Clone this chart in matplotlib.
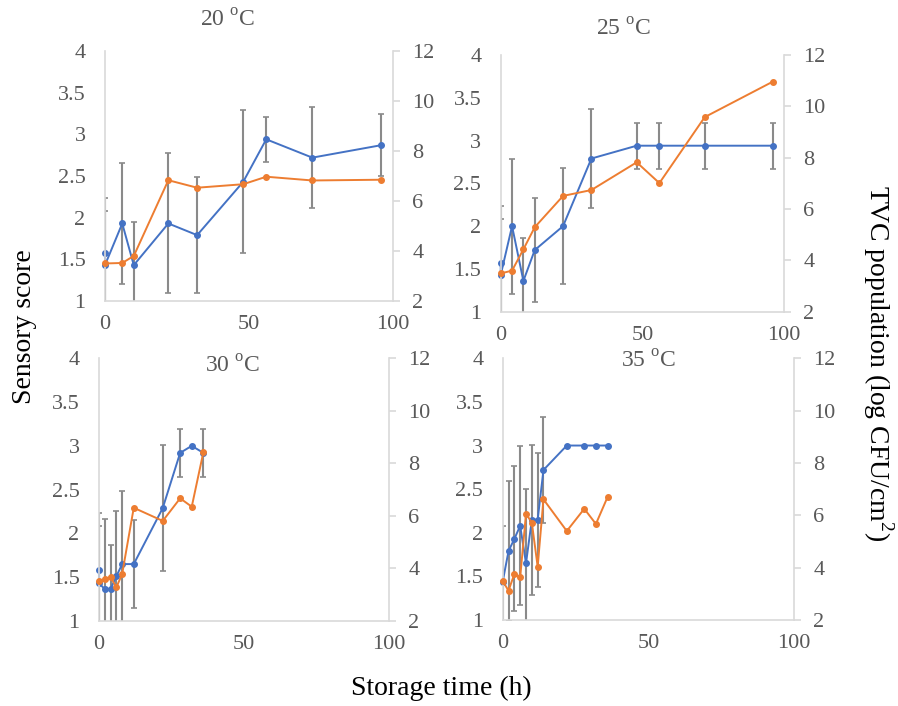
''' sensory score and TVC population vs storage time at four temperatures '''
import numpy as np
import matplotlib
matplotlib.use('Agg')
import matplotlib.pyplot as plt
from matplotlib.ticker import MultipleLocator, FormatStrFormatter

''' ########################### DATA ########################### '''
nan = np.nan

# 20 C
t20_sens = [0, 0, 6, 10, 22, 32, 48, 56, 72, 96]
sens20 = [1.57, 1.43, 1.93, 1.43, 1.93, 1.79, 2.43, 2.94, 2.72, 2.87]
err20 = [0.66, 0.65, 0.73, 0.52, 0.84, 0.70, 0.86, 0.27, 0.61, 0.37]
t20_tvc = [0, 6, 10, 22, 32, 48, 56, 72, 96]
tvc20 = [3.50, 3.52, 3.80, 6.83, 6.53, 6.67, 6.97, 6.82, 6.85]

# 25 C
t25_sens = [0, 0, 4, 8, 12, 22, 32, 48, 56, 72, 96]
sens25 = [1.57, 1.43, 2.0, 1.36, 1.72, 2.0, 2.79, 2.94, 2.94, 2.94, 2.94]
err25 = [0.66, 0.65, 0.79, 0.50, 0.61, 0.68, 0.58, 0.27, 0.27, 0.27, 0.27]
t25_tvc = [0, 4, 8, 12, 22, 32, 48, 56, 72, 96]
tvc25 = [3.49, 3.60, 4.43, 5.29, 6.51, 6.74, 7.82, 7.01, 9.58, 10.96]

# 30 C
t30_sens = [0, 0, 2, 4, 6, 8, 12, 22, 28, 32, 36]
sens30 = [1.58, 1.43, 1.365, 1.365, 1.51, 1.65, 1.65, 2.29, 2.92, 3.0, 2.92]
err30 = [0.65, 0.65, 0.80, 0.50, 0.75, 0.84, 0.50, 0.72, 0.27, nan, 0.27]
t30_tvc = [0, 2, 4, 6, 8, 12, 22, 28, 32, 36]
tvc30 = [3.52, 3.60, 3.68, 3.28, 3.79, 6.31, 5.81, 6.67, 6.35, 8.42]

# 35 C
t35_sens = [0, 2, 4, 6, 8, 10, 12, 14, 22, 28, 32, 36]
sens35 = [1.44, 1.79, 1.93, 2.08, 1.65, 2.15, 2.15, 2.72, 3.0, 3.0, 3.0, 3.0]
err35 = [0.64, 0.80, 0.83, 0.91, 0.85, 0.86, 0.77, 0.61, nan, nan, nan, nan]
t35_tvc = [0, 2, 4, 6, 8, 10, 12, 14, 22, 28, 32, 36]
tvc35 = [3.49, 3.12, 3.76, 3.63, 6.06, 5.72, 4.04, 6.61, 5.40, 6.25, 5.67, 6.70]

titles = ['20 $^{\\rm o}$C', '25 $^{\\rm o}$C', '30 $^{\\rm o}$C', '35 $^{\\rm o}$C']

''' ########################### STYLE ########################### '''
c_sens, c_tvc, c_err = '#4472C4', '#ED7D31', '#8a8a8a'
c_spine, c_tick = '#d9d9d9', '#595959'
tick_fs, title_fs, lab_fs = 16, 17, 20

# axes rectangles [left, bottom, width, height] in figure fractions
ax_rects = [[0.1169, 0.5737, 0.3207, 0.3541],
            [0.5576, 0.5585, 0.3155, 0.3636],
            [0.1102, 0.1204, 0.3229, 0.3721],
            [0.5598, 0.1218, 0.3244, 0.3707]]
# title centres (figure fractions)
title_xy = [(0.253, 0.971), (0.694, 0.958), (0.259, 0.480), (0.722, 0.488)]

plt.rcParams['font.family'] = ['Liberation Serif', 'DejaVu Serif']
plt.rcParams['mathtext.fontset'] = 'custom'
plt.rcParams['mathtext.rm'] = 'Liberation Serif'

''' ########################### MAIN ########################### '''
fig = plt.figure(figsize=(8.98, 7.06), dpi=100)

panels = [(t20_sens, sens20, err20, t20_tvc, tvc20),
          (t25_sens, sens25, err25, t25_tvc, tvc25),
          (t30_sens, sens30, err30, t30_tvc, tvc30),
          (t35_sens, sens35, err35, t35_tvc, tvc35)]

for i, (ts, s, e, tt, v) in enumerate(panels):
    ax = fig.add_axes(ax_rects[i])
    ax2 = ax.twinx()

    # error bars behind the sensory line (clipped at the axis)
    ax.errorbar(ts, s, yerr=e, fmt='none', ecolor=c_err, elinewidth=1.5,
                capsize=2.2, capthick=1.2, zorder=1)
    ax.plot(ts, s, color=c_sens, marker='o', markersize=4, lw=1.4, zorder=2,
            clip_on=False)
    ax2.plot(tt, v, color=c_tvc, marker='o', markersize=4, lw=1.4, clip_on=False)

    ax.set_xlim(0, 100)
    ax.set_ylim(1, 4)
    ax2.set_ylim(2, 12)
    ax.xaxis.set_major_locator(MultipleLocator(50))
    ax.yaxis.set_major_locator(MultipleLocator(0.5))
    ax.yaxis.set_major_formatter(FormatStrFormatter('%g'))
    ax2.yaxis.set_major_locator(MultipleLocator(2))

    for a in (ax, ax2):
        for sp in a.spines.values():
            sp.set_visible(False)
    ax.spines['left'].set_visible(True)
    ax.spines['bottom'].set_visible(True)
    ax2.spines['right'].set_visible(True)
    for sp in (ax.spines['left'], ax.spines['bottom'], ax2.spines['right']):
        sp.set_color(c_spine)
        sp.set_linewidth(1.2)

    ax.tick_params(axis='y', length=0, pad=14, labelsize=tick_fs, labelcolor=c_tick)
    ax.tick_params(axis='x', length=0, pad=10, labelsize=tick_fs, labelcolor=c_tick)
    ax2.tick_params(axis='y', length=5, width=1.2, color=c_spine, pad=9,
                    labelsize=tick_fs, labelcolor=c_tick)

    fig.text(title_xy[i][0], title_xy[i][1], titles[i], ha='center', va='center',
             fontsize=title_fs, color=c_tick)

fig.text(0.027, 0.538, 'Sensory score', rotation=90, ha='center', va='center',
         fontsize=lab_fs)
fig.text(0.978, 0.486, 'TVC population (log CFU/cm$^2$)', rotation=270,
         ha='center', va='center', fontsize=lab_fs)
fig.text(0.491, 0.025, 'Storage time (h)', ha='center', va='center', fontsize=lab_fs)

fig.savefig('out.png', dpi=100)
